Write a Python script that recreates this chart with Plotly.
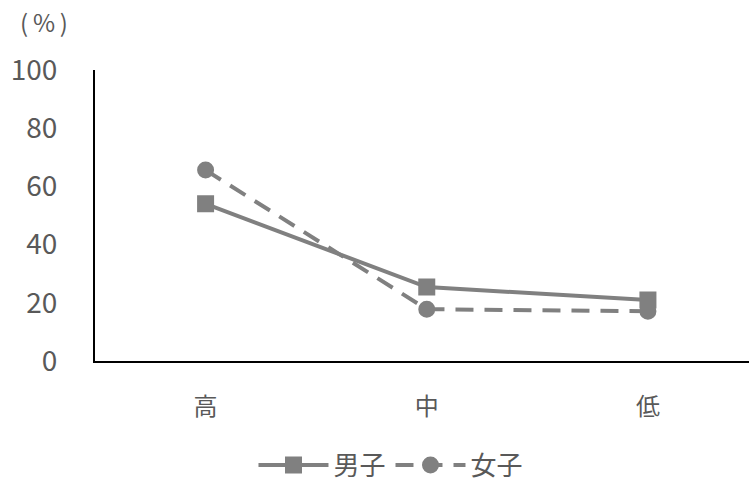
import plotly.graph_objects as go

# Share of each group (%), by level
levels = ["高", "中", "低"]
boys = [54.0, 25.4, 21.0]
girls = [65.6, 17.8, 17.1]
y_ticks = [0, 20, 40, 60, 80, 100]

GRAY = "#808080"
TEXT = "#595959"
FONT = "Noto Sans CJK JP"

fig = go.Figure()
fig.add_trace(go.Scatter(
    x=levels, y=boys, name="男子", mode="lines+markers",
    line=dict(color=GRAY, width=4),
    marker=dict(symbol="square", size=15, color=GRAY, line=dict(color=GRAY, width=2)),
))
fig.add_trace(go.Scatter(
    x=levels, y=girls, name="女子", mode="lines+markers",
    line=dict(color=GRAY, width=4, dash="18px,11px"),
    marker=dict(symbol="circle", size=15, color=GRAY, line=dict(color=GRAY, width=2)),
))

fig.update_layout(
    width=749, height=482,
    margin=dict(l=95, r=0, t=70, b=121),
    paper_bgcolor="white", plot_bgcolor="white",
    font=dict(family=FONT, color=TEXT),
    showlegend=True,
    legend=dict(
        orientation="h", xref="container", yref="container",
        x=0.522, xanchor="center", y=0.035, yanchor="middle",
        font=dict(size=26, color=TEXT), itemwidth=70,
    ),
    xaxis=dict(
        type="category", range=[-0.5, 2.457],
        showline=True, linecolor="black", linewidth=2,
        showgrid=False, ticks="", ticklabelstandoff=23,
        tickfont=dict(size=24, color=TEXT),
    ),
    yaxis=dict(
        range=[0, 100], tickvals=y_ticks,
        showline=True, linecolor="black", linewidth=2,
        showgrid=False, zeroline=False, ticks="", ticklabelstandoff=30,
        tickfont=dict(size=28, color=TEXT),
    ),
    annotations=[dict(
        text="(\u2009%\u2009)", xref="paper", yref="paper", x=-0.078, y=1.167,
        xanchor="center", yanchor="middle",
        showarrow=False, font=dict(size=24, color=TEXT),
    )],
)

fig.write_html("out.html")
